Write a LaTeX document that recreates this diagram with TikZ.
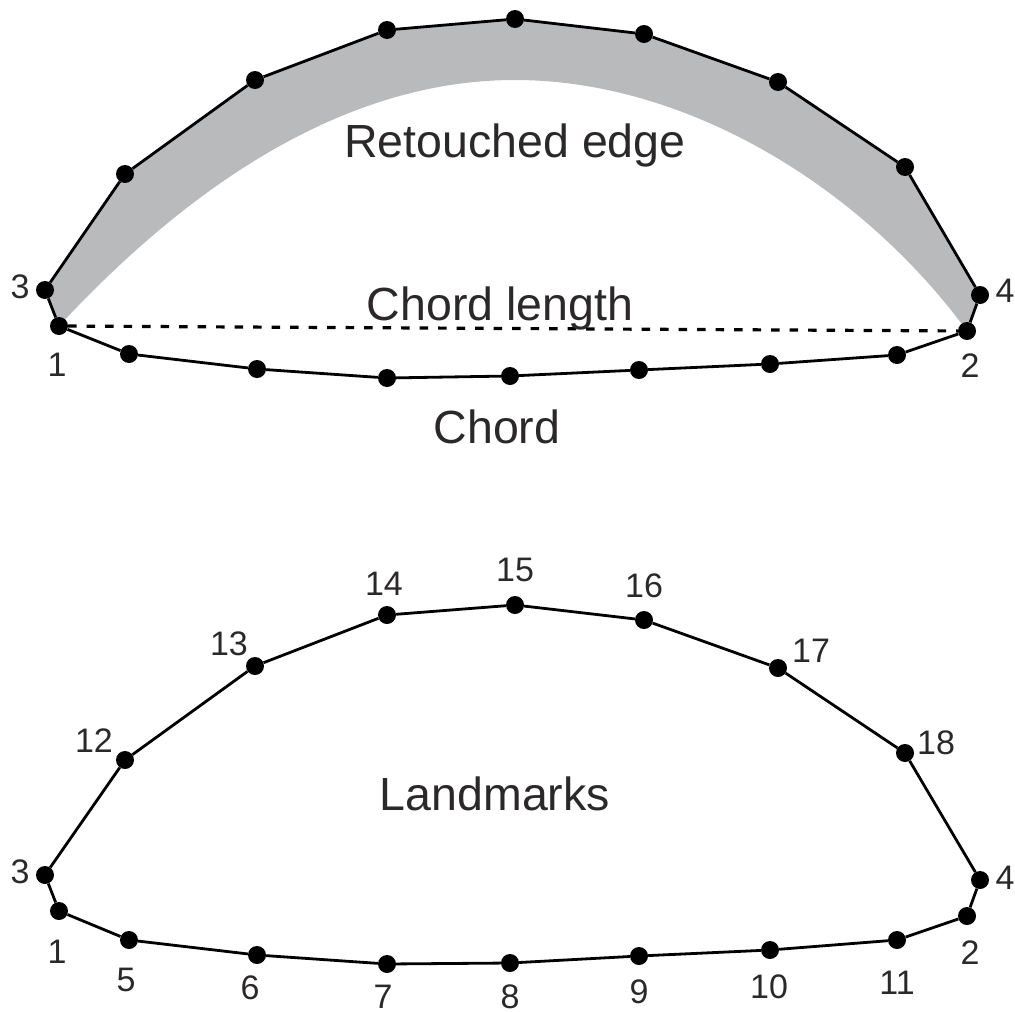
\documentclass[tikz,border=0pt]{standalone}
\usepackage{fontspec}
\setmainfont{Liberation Sans}
\definecolor{txtc}{HTML}{2B2829}
\definecolor{greyfill}{HTML}{B9BABC}
\tikzset{
  lm/.style={circle,fill=black,inner sep=0pt,minimum size=18pt},
  edge/.style={black,line width=2.8pt},
  lab/.style={text=txtc,font=\fontsize{34}{40}\selectfont,inner sep=0pt},
  big/.style={text=txtc,font=\fontsize{46.5}{54}\selectfont,inner sep=0pt,anchor=base}
}
\begin{document}
\begin{tikzpicture}[x=1pt,y=-1pt]
\useasboundingbox (0,0) rectangle (1015,1012);
\fill[greyfill] (59,326) .. controls (190,185) and (345,80) .. (515,80) .. controls (685,80) and (860,185) .. (967,331) -- (980,295) -- (905,167) -- (778,82) -- (644,34) -- (515,19) -- (387,30) -- (255,80) -- (125,174) -- (45,290) -- cycle;
% top
\foreach \n/\x/\y in {a1/59/326,a2/967/331,a3/45/290,a4/980/295,a5/129/354,a6/257/369,a7/387/378,a8/510/376,a9/639/370,a10/770/364,a11/897/355,a12/125/174,a13/255/80,a14/387/30,a15/515/19,a16/644/34,a17/778/82,a18/905/167}
  \node[lm] (\n) at (\x,\y) {};
\draw[edge] (a1)--(a3)--(a12)--(a13)--(a14)--(a15)--(a16)--(a17)--(a18)--(a4)--(a2)--(a11)--(a10)--(a9)--(a8)--(a7)--(a6)--(a5)--(a1);
\draw[edge,line width=3.2pt,dash pattern=on 8.5pt off 10pt] (a1)--(a2);
% bottom
\foreach \n/\x/\y in {b1/59/911,b2/967/916,b3/45/875,b4/980/880,b5/129/940,b6/257/955,b7/387/964,b8/510/963,b9/639/956,b10/770/950,b11/897/940,b12/125/760,b13/255/666,b14/387/615,b15/515/605,b16/644/620,b17/778/668,b18/905/753}
  \node[lm] (\n) at (\x,\y) {};
\draw[edge] (b1)--(b3)--(b12)--(b13)--(b14)--(b15)--(b16)--(b17)--(b18)--(b4)--(b2)--(b11)--(b10)--(b9)--(b8)--(b7)--(b6)--(b5)--(b1);
% labels
\foreach \n/\t/\x/\y in {l1/3/20/287,l2/1/57/365,l3/2/970/366,l4/4/1005/291,m1/3/20/872,m2/1/57/952,m3/2/970/953,m4/4/1005/878,m5/5/126/980,m6/6/250/988,m7/7/383/997,m8/8/510/997,m9/9/639/992,m10/10/769/987,m11/11/897/983,m12/12/94/741,m13/13/229/644,m14/14/384/584,m15/15/515/570,m16/16/644/586,m17/17/811/651,m18/18/936/743}
  \node[lab] (\n) at (\x,\y) {\t};
\node[big] (t1) at (515,157) {Retouched edge};
\node[big] (t2) at (500,320) {Chord length};
\node[big] (t3) at (497,443) {Chord};
\node[big] (t4) at (495,810) {Landmarks};
\end{tikzpicture}
\end{document}
